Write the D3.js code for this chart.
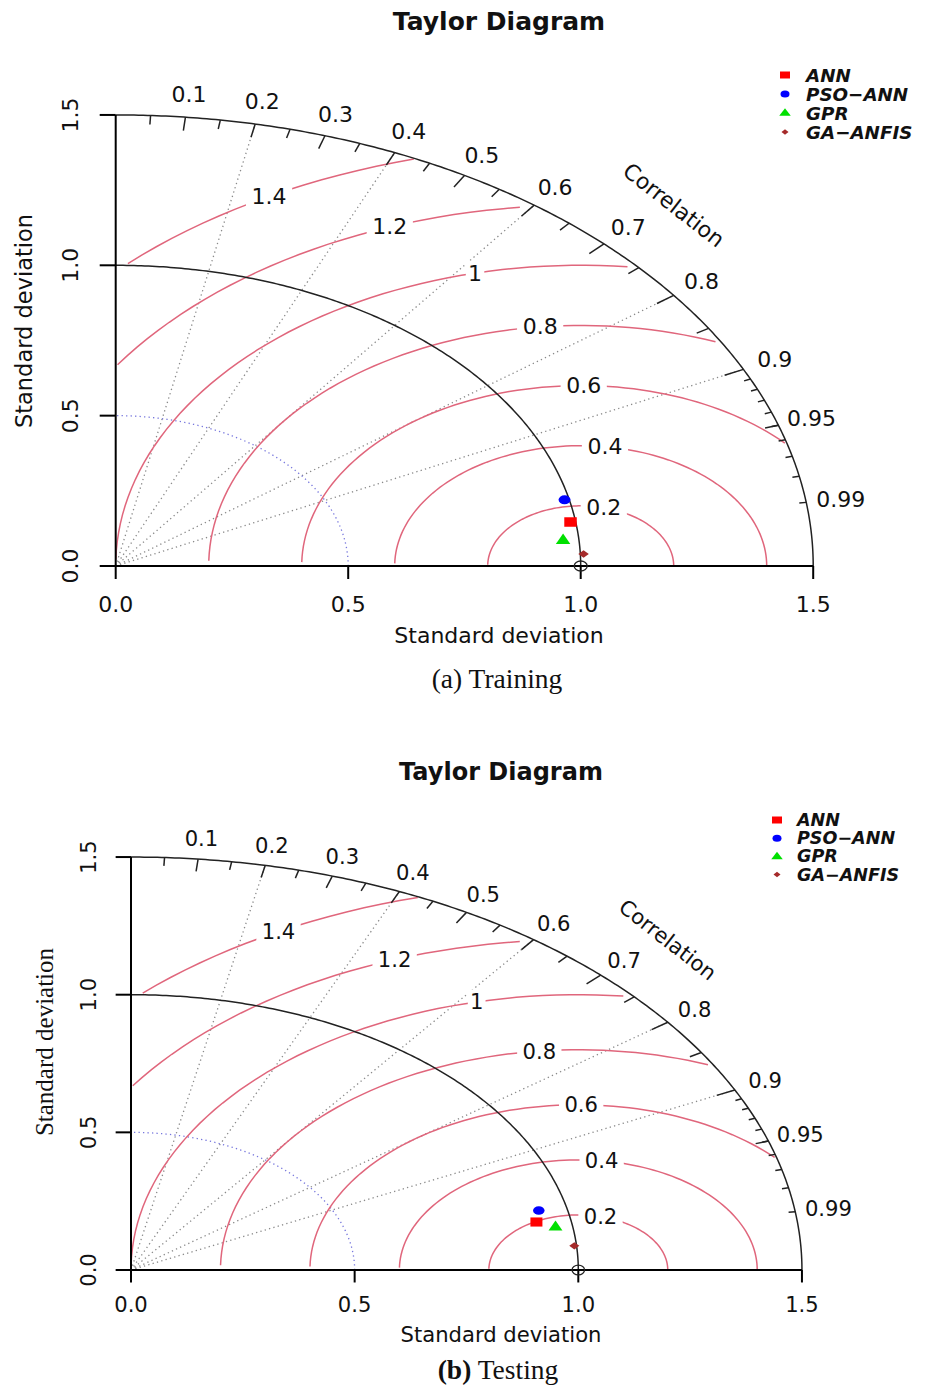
<!DOCTYPE html>
<html>
<head>
<meta charset="utf-8">
<script src="https://cdn.jsdelivr.net/npm/d3@7"></script>
<style>
  html, body { margin: 0; padding: 0; background: #fff; }
  svg text { font-family: "DejaVu Sans", sans-serif; fill: #111; }
</style>
</head>
<body>
<svg id="chart" width="928" height="1387"></svg>
<script>
// ---- data ----
const models = ["ANN", "PSO\u2212ANN", "GPR", "GA\u2212ANFIS"];
const modelColors = ["#ff0000", "#0000ff", "#00e000", "#a52a2a"];
const modelShapes = ["square", "circle", "triangle", "diamond"];

// Training: standard deviation and correlation of each model
const trainSD   = [0.989, 0.990, 0.966, 1.007];
const trainCorr = [0.989, 0.975, 0.996, 0.9992];
// Testing
const testSD    = [0.923, 0.937, 0.962, 0.995];
const testCorr  = [0.982, 0.973, 0.9865, 0.9961];

const sdTicks    = [0, 0.5, 1.0, 1.5];
const sdTickText = ["0.0", "0.5", "1.0", "1.5"];
const corrLabels = [0.1, 0.2, 0.3, 0.4, 0.5, 0.6, 0.7, 0.8, 0.9, 0.95, 0.99];
const corrRays   = [0.2, 0.4, 0.6, 0.8, 0.9];
const gammaLevels = [0.2, 0.4, 0.6, 0.8, 1.0, 1.2, 1.4];
const gammaText   = ["0.2", "0.4", "0.6", "0.8", "1", "1.2", "1.4"];
const bigTicks = [0.1, 0.2, 0.3, 0.4, 0.5, 0.6, 0.7, 0.8, 0.9];
const medTicks = [0.05, 0.15, 0.25, 0.35, 0.45, 0.55, 0.65, 0.75, 0.85, 0.95];
const smlTicks = [0.91, 0.92, 0.93, 0.94, 0.95, 0.96, 0.97, 0.98, 0.99];

const maxSD = 1.5, refSD = 1.0, gridSD = 0.5;
const contourColor = "#e0667c";

const svg = d3.select("#chart");

function symbolPath(shape, w, h) {
  const a = w / 2, b = h / 2;
  if (shape === "square") return `M${-a},${-b}H${a}V${b}H${-a}Z`;
  if (shape === "triangle") return `M0,${-h * 0.62}L${a},${h * 0.38}L${-a},${h * 0.38}Z`;
  if (shape === "diamond") return `M0,${-b}L${a},0L0,${b}L${-a},0Z`;
  // ellipse for the circle symbol
  return `M${-a},0A${a},${b} 0 1,0 ${a},0A${a},${b} 0 1,0 ${-a},0Z`;
}
const markerSize = { square: [12.5, 9.5], circle: [12, 9], triangle: [14.5, 10.5], diamond: [10.5, 7.5] };
const legendSize = { square: [10, 7], circle: [9, 7], triangle: [11.5, 7.5], diamond: [7, 5.5] };

function drawPanel(cfg, sds, corrs) {
  const fs = cfg.fs;
  const g = svg.append("g");
  const x = d3.scaleLinear().domain([0, maxSD]).range([cfg.ox, cfg.ox + maxSD * cfg.sx]);
  const y = d3.scaleLinear().domain([0, maxSD]).range([cfg.oy, cfg.oy - maxSD * cfg.sy]);
  const line = d3.line().x(d => x(d[0])).y(d => y(d[1]));
  const polar = (r, c) => [r * c, r * Math.sqrt(Math.max(0, 1 - c * c))];
  const arc = (r, n) => d3.range(n + 1).map(i => {
    const t = (Math.PI / 2) * i / n; return [r * Math.cos(t), r * Math.sin(t)];
  });

  // title
  g.append("text").attr("x", cfg.titleX).attr("y", cfg.titleY)
    .attr("text-anchor", "middle").attr("dominant-baseline", "central")
    .attr("font-weight", "bold").attr("font-size", 25 * fs).text("Taylor Diagram");

  // correlation rays (dotted)
  g.selectAll(".ray").data(corrRays).join("path")
    .attr("d", c => line([[0, 0], polar(maxSD, c)]))
    .attr("fill", "none").attr("stroke", "#8a8a8a").attr("stroke-width", 1.3)
    .attr("stroke-dasharray", "1.3,3.2");

  // dotted sd grid arc
  g.append("path").attr("d", line(arc(gridSD, 120)))
    .attr("fill", "none").attr("stroke", "#7777dd").attr("stroke-width", 1.3)
    .attr("stroke-dasharray", "1.3,3.2");

  // centred RMS difference contours
  const angles = d3.range(0, Math.PI, 0.03);
  const labelIdx = d3.range(gammaLevels.length).map(i =>
    Math.floor(45 + (70 - 45) * i / (gammaLevels.length - 1)) - 1);
  const gammaLabels = [];
  gammaLevels.forEach((gm, gi) => {
    const pts = angles.map(t => [Math.cos(t) * gm + refSD, Math.sin(t) * gm]);
    let end = pts.findIndex(p => p[0] < 0);
    end = end >= 0 ? end - 1 : pts.length - 1;
    let start = -1;
    pts.forEach((p, i) => { if (p[0] * p[0] + p[1] * p[1] > maxSD * maxSD) start = i; });
    start = start + 1;
    g.append("path").attr("d", line(pts.slice(start, end + 1)))
      .attr("fill", "none").attr("stroke", contourColor).attr("stroke-width", 1.5);
    const lp = pts[labelIdx[gi]];
    if (lp[0] > 0) gammaLabels.push({ p: lp, t: gammaText[gi] });
  });

  // reference sd arc and outer arc
  g.append("path").attr("d", line(arc(refSD, 200)))
    .attr("fill", "none").attr("stroke", "#222").attr("stroke-width", 1.5);
  g.append("path").attr("d", line(arc(maxSD, 240)))
    .attr("fill", "none").attr("stroke", "#222").attr("stroke-width", 1.5);

  // outer arc ticks
  const tick = (vals, frac) => g.selectAll(null).data(vals).join("path")
    .attr("d", c => line([polar(maxSD, c), polar(maxSD * frac, c)]))
    .attr("stroke", "#222").attr("stroke-width", 1.5);
  tick(bigTicks, 0.97); tick(medTicks, 0.98); tick(smlTicks, 0.99);

  // correlation labels
  g.selectAll(".clab").data(corrLabels).join("text")
    .attr("x", c => x(polar(maxSD * 1.05, c)[0]))
    .attr("y", c => y(polar(maxSD * 1.05, c)[1]))
    .attr("text-anchor", "middle").attr("dominant-baseline", "central")
    .attr("font-size", 22 * fs).text(c => String(c));
  g.append("text")
    .attr("transform", `translate(${x(1.2)},${y(1.2)}) rotate(38)`)
    .attr("text-anchor", "middle").attr("dominant-baseline", "central")
    .attr("font-size", 22 * fs).text("Correlation");

  // boxed contour labels
  gammaLabels.forEach(d => {
    const cx = x(d.p[0]), cy = y(d.p[1]);
    const t = g.append("text").attr("x", cx).attr("y", cy)
      .attr("text-anchor", "middle").attr("dominant-baseline", "central")
      .attr("font-size", 22 * fs).text(d.t);
    const bb = t.node().getBBox();
    g.insert("rect", () => t.node())
      .attr("x", cx - bb.width * 0.66).attr("y", cy - bb.height * 0.5)
      .attr("width", bb.width * 1.32).attr("height", bb.height)
      .attr("fill", "#fff");
  });

  // axes
  g.append("path").attr("d", line([[0, 0], [maxSD, 0]])).attr("stroke", "#000").attr("stroke-width", 2);
  g.append("path").attr("d", line([[0, 0], [0, maxSD]])).attr("stroke", "#000").attr("stroke-width", 2);
  g.selectAll(".xt").data(sdTicks).join("line")
    .attr("x1", d => x(d)).attr("x2", d => x(d))
    .attr("y1", cfg.oy).attr("y2", cfg.oy + 13 * fs)
    .attr("stroke", "#000").attr("stroke-width", 2);
  g.selectAll(".yt").data(sdTicks).join("line")
    .attr("x1", cfg.ox).attr("x2", cfg.ox - 16 * fs)
    .attr("y1", d => y(d)).attr("y2", d => y(d))
    .attr("stroke", "#000").attr("stroke-width", 2);
  g.selectAll(".xl").data(sdTicks).join("text")
    .attr("x", d => x(d)).attr("y", cfg.xTickY)
    .attr("text-anchor", "middle").attr("dominant-baseline", "central")
    .attr("font-size", 22 * fs).text((d, i) => sdTickText[i]);
  g.selectAll(".yl").data(sdTicks).join("text")
    .attr("transform", d => `translate(${cfg.yTickX},${y(d)}) rotate(-90)`)
    .attr("text-anchor", "middle").attr("dominant-baseline", "central")
    .attr("font-size", 22 * fs).text((d, i) => sdTickText[i]);
  g.append("text").attr("x", cfg.xLabelX).attr("y", cfg.xLabelY)
    .attr("text-anchor", "middle").attr("dominant-baseline", "central")
    .attr("font-size", 22 * fs).text("Standard deviation");
  g.append("text")
    .attr("transform", `translate(${cfg.yLabelX},${cfg.yLabelY}) rotate(-90)`)
    .attr("text-anchor", "middle").attr("dominant-baseline", "central")
    .attr("font-size", cfg.yLabelSize)
    .style("font-family", cfg.yLabelFont)
    .text("Standard deviation");

  // reference point
  g.append("ellipse").attr("cx", x(refSD)).attr("cy", y(0))
    .attr("rx", 6.5 * fs).attr("ry", 5 * fs)
    .attr("fill", "none").attr("stroke", "#222").attr("stroke-width", 1.3);

  // model points
  sds.forEach((sd, i) => {
    const p = polar(sd, corrs[i]);
    const s = markerSize[modelShapes[i]];
    g.append("path")
      .attr("transform", `translate(${x(p[0])},${y(p[1])})`)
      .attr("d", symbolPath(modelShapes[i], s[0] * fs, s[1] * fs))
      .attr("fill", modelColors[i]);
  });

  // legend
  models.forEach((m, i) => {
    const ly = cfg.legY + i * cfg.legStep;
    const s = legendSize[modelShapes[i]];
    g.append("path").attr("transform", `translate(${cfg.legX},${ly})`)
      .attr("d", symbolPath(modelShapes[i], s[0], s[1])).attr("fill", modelColors[i]);
    g.append("text").attr("x", cfg.legTextX).attr("y", ly)
      .attr("dominant-baseline", "central")
      .attr("font-weight", "bold").attr("font-style", "italic")
      .attr("font-size", 18.3 * fs).text(m);
  });

  // caption
  const cap = g.append("text").attr("x", cfg.capX).attr("y", cfg.capY)
    .attr("text-anchor", "middle").attr("dominant-baseline", "central")
    .style("font-family", "'Liberation Serif', 'Times New Roman', serif")
    .attr("font-size", 27.5);
  cap.append("tspan").attr("font-weight", cfg.capBold ? "bold" : "normal").text(cfg.capTag);
  cap.append("tspan").text(" " + cfg.capText);
}

drawPanel({
  ox: 115.7, oy: 566, sx: 465, sy: 300.7, fs: 1,
  titleX: 499, titleY: 21,
  xTickY: 604, yTickX: 70,
  xLabelX: 499, xLabelY: 635,
  yLabelX: 24, yLabelY: 321, yLabelSize: 22.5, yLabelFont: "'DejaVu Sans', sans-serif",
  legX: 785, legTextX: 806, legY: 75, legStep: 19,
  capX: 497, capY: 678, capTag: "(a)", capText: "Training", capBold: false
}, trainSD, trainCorr);

drawPanel({
  ox: 131, oy: 1270, sx: 447.3, sy: 275.3, fs: 0.96,
  titleX: 501, titleY: 772,
  xTickY: 1304, yTickX: 88,
  xLabelX: 501, xLabelY: 1334,
  yLabelX: 44, yLabelY: 1042, yLabelSize: 25, yLabelFont: "'Liberation Serif', 'Times New Roman', serif",
  legX: 777, legTextX: 797, legY: 820, legStep: 18.2,
  capX: 498, capY: 1369, capTag: "(b)", capText: "Testing", capBold: true
}, testSD, testCorr);
</script>
</body>
</html>
